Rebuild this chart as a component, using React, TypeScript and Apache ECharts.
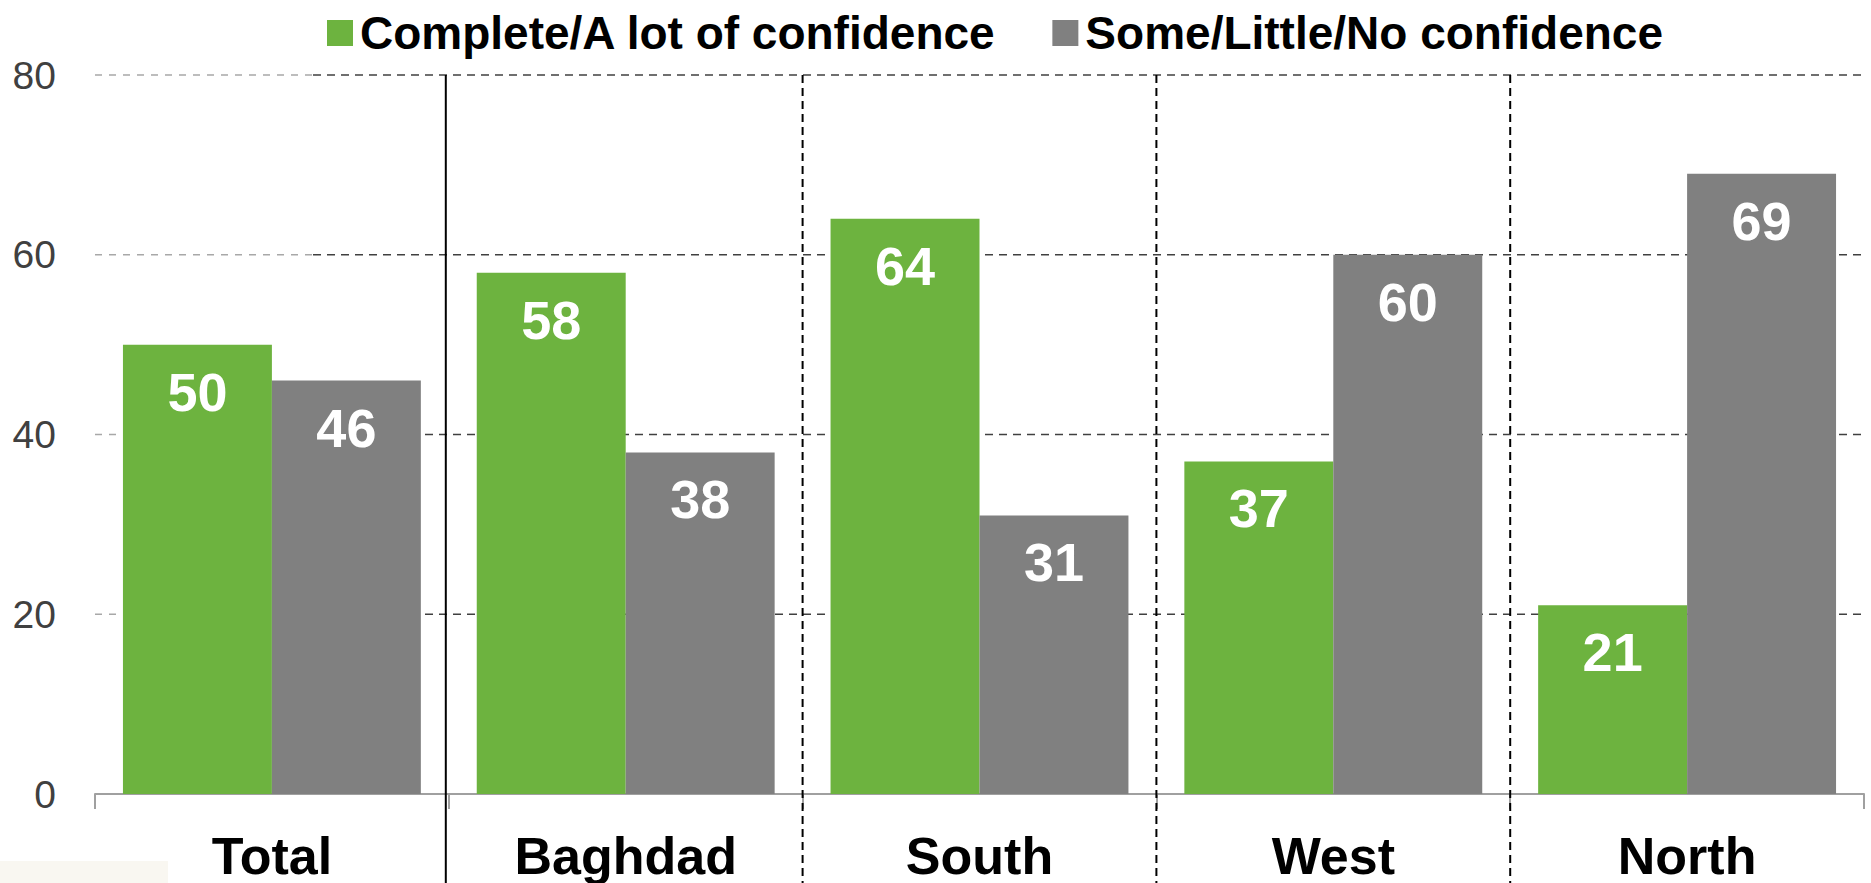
import React, { useEffect, useRef } from "react";
import * as echarts from "echarts";

const categories = ["Total", "Baghdad", "South", "West", "North"];
const confidentValues = [50, 58, 64, 37, 21];
const notConfidentValues = [46, 38, 31, 60, 69];
const seriesNames = ["Complete/A lot of confidence", "Some/Little/No confidence"];
const yTicks = [0, 20, 40, 60, 80];

const GREEN = "#6db33f";
const GRAY = "#808080";
const FONT = "'Liberation Sans', Arial, sans-serif";

export default function App() {
  const ref = useRef<HTMLDivElement>(null);
  useEffect(() => {
    if (!ref.current) return;
    const chart = echarts.init(ref.current, null, { renderer: "svg" });
    const valueLabel = {
      show: true,
      position: "insideTop",
      distance: 20,
      color: "#ffffff",
      fontFamily: FONT,
      fontWeight: "bold",
      fontSize: 54,
      lineHeight: 54,
    };
    chart.setOption({
      animation: false,
      backgroundColor: "#ffffff",
      textStyle: { fontFamily: FONT },
      legend: {
        left: 322,
        top: 5,
        itemWidth: 26,
        itemHeight: 26,
        itemGap: 56,
        icon: "rect",
        textStyle: { fontFamily: FONT, fontSize: 46, fontWeight: "bold", color: "#000", padding: [0, 0, 0, 2] },
        data: seriesNames,
      },
      grid: { left: 95, right: 7, top: 75, bottom: 87, containLabel: false },
      xAxis: {
        type: "category",
        data: categories,
        axisLine: { lineStyle: { color: "#a0a0a0", width: 2 } },
        axisTick: { show: true, length: 15, lineStyle: { color: "#a0a0a0", width: 2 } },
        axisLabel: {
          margin: 35,
          color: "#000",
          fontFamily: FONT,
          fontWeight: "bold",
          fontSize: 52,
          lineHeight: 54,
        },
      },
      yAxis: {
        type: "value",
        min: yTicks[0],
        max: yTicks[yTicks.length - 1],
        interval: 20,
        axisLine: { show: false },
        axisTick: { show: false },
        splitLine: { show: false },
        axisLabel: { margin: 39, color: "#404040", fontFamily: FONT, fontSize: 39 },
      },
      series: [
        {
          name: seriesNames[0],
          type: "bar",
          data: confidentValues,
          itemStyle: { color: GREEN },
          barGap: "0%",
          barCategoryGap: "15.8%",
          label: valueLabel,
          z: 2,
        },
        {
          name: seriesNames[1],
          type: "bar",
          data: notConfidentValues,
          itemStyle: { color: GRAY },
          barGap: "0%",
          barCategoryGap: "15.8%",
          label: valueLabel,
          z: 2,
        },
      ],
    });

    // Gridlines and separators computed from the chart's own scales
    const graphics: any[] = [];
    const gridLeft = 95;
    const gridRight = 1871 - 7;
    const splitX = 313;
    yTicks.slice(1).forEach((v) => {
      const y = chart.convertToPixel({ yAxisIndex: 0 }, v) as number;
      graphics.push({
        type: "line",
        z: 0,
        shape: { x1: gridLeft, y1: y, x2: splitX, y2: y },
        style: { stroke: "#a8a8a8", lineWidth: 1.5, lineDash: [7, 7] },
      });
      graphics.push({
        type: "line",
        z: 0,
        shape: { x1: splitX, y1: y, x2: gridRight, y2: y },
        style: { stroke: "#404040", lineWidth: 1.5, lineDash: [8, 6] },
      });
    });
    const topY = chart.convertToPixel({ yAxisIndex: 0 }, yTicks[yTicks.length - 1]) as number;
    const centers = categories.map((c) => chart.convertToPixel({ xAxisIndex: 0 }, c) as number);
    for (let i = 0; i < centers.length - 1; i++) {
      const x = (centers[i] + centers[i + 1]) / 2 + (i === 0 ? -3 : 0);
      graphics.push({
        type: "line",
        z: 5,
        shape: { x1: x, y1: topY, x2: x, y2: 883 },
        style: i === 0
          ? { stroke: "#000", lineWidth: 2 }
          : { stroke: "#000", lineWidth: 2, lineDash: [8, 5] },
      });
    }
    graphics.push({
      type: "rect",
      z: 0,
      shape: { x: 0, y: 861, width: 168, height: 22 },
      style: { fill: "#f9f7f1" },
    });
    chart.setOption({ graphic: graphics });

    return () => chart.dispose();
  }, []);
  return (
    <div
      ref={ref}
      style={{ position: "fixed", left: 0, top: 0, width: 1871, height: 883, background: "#fff" }}
    />
  );
}
